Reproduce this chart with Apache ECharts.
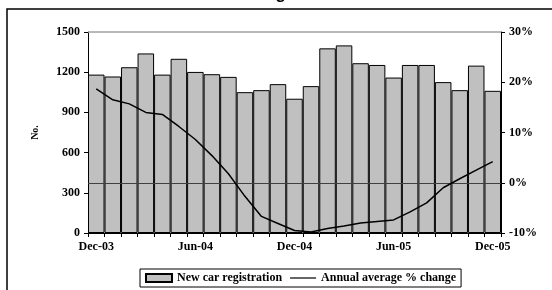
<!DOCTYPE html>
<html>
<head>
<meta charset="utf-8">
<script src="https://cdn.jsdelivr.net/npm/echarts@6/dist/echarts.min.js"></script>
<style>
  html, body { margin: 0; padding: 0; background: #fff; }
  #chart { width: 552px; height: 290px; }
</style>
</head>
<body>
<div id="chart"></div>
<script>
// months Dec-03 .. Dec-05
const months = ['Dec-03', 'Jan-04', 'Feb-04', 'Mar-04', 'Apr-04', 'May-04', 'Jun-04', 'Jul-04', 'Aug-04',
  'Sep-04', 'Oct-04', 'Nov-04', 'Dec-04', 'Jan-05', 'Feb-05', 'Mar-05', 'Apr-05', 'May-05', 'Jun-05',
  'Jul-05', 'Aug-05', 'Sep-05', 'Oct-05', 'Nov-05', 'Dec-05']

const registrations = [1182, 1168, 1237, 1340, 1182, 1300, 1202, 1185, 1165,
  1051, 1066, 1111, 1002, 1096, 1378, 1400, 1267, 1254, 1160,
  1254, 1254, 1126, 1066, 1249, 1061]

const annualChange = [18.7, 16.5, 15.7, 14.0, 13.6, 11.2, 8.6, 5.4, 1.8,
  -2.7, -6.7, -8.1, -9.5, -9.8, -9.1, -8.6, -8.0, -7.7, -7.4,
  -5.8, -4.0, -1.0, 0.8, 2.5, 4.2]

const font = 'Liberation Serif'

var chart = echarts.init(document.getElementById('chart'))

var option = {
  animation: false,
  title: {
    text: 'New car registrations',
    left: 'center',
    top: -19,
    textStyle: { fontFamily: 'Liberation Sans', fontSize: 17, fontWeight: 'bold', color: '#000' }
  },
  graphic: [{
    type: 'rect',
    shape: { x: 7, y: 9, width: 700, height: 400 },
    style: { fill: 'none', stroke: '#000', lineWidth: 1.5 },
    silent: true
  }],
  legend: {
    bottom: 3,
    left: 140,
    itemGap: 8,
    itemWidth: 26,
    itemHeight: 8,
    padding: [3, 5],
    borderColor: '#000',
    borderWidth: 1,
    textStyle: { fontFamily: font, fontSize: 12, fontWeight: 'bold', color: '#000' },
    data: [
      { name: 'New car registration', icon: 'rect' },
      { name: 'Annual average % change', icon: 'path://M0,0 L0,0 M0,3.4 L26,3.4 L26,4.6 L0,4.6 Z M0,8 L0,8' }
    ]
  },
  grid: { left: 88, right: 51, top: 32, bottom: 57 },
  xAxis: {
    type: 'category',
    data: months,
    axisLine: { lineStyle: { color: '#000', width: 1 } },
    axisTick: { show: true, interval: 0, length: 4, lineStyle: { color: '#000' } },
    axisLabel: {
      interval: 5,
      margin: 8,
      fontFamily: font, fontSize: 12, fontWeight: 'bold', color: '#000'
    }
  },
  yAxis: [
    {
      type: 'value',
      min: 0, max: 1500, interval: 300,
      name: 'No.',
      nameLocation: 'middle',
      nameRotate: 90,
      nameGap: 48,
      nameTextStyle: { fontFamily: font, fontSize: 10, fontWeight: 'bold', color: '#000' },
      axisLine: { show: true, lineStyle: { color: '#000' } },
      axisTick: { show: true, length: 4, lineStyle: { color: '#000' } },
      axisLabel: {
        formatter: function (v) { return String(v) },
        margin: 8, fontFamily: font, fontSize: 12, fontWeight: 'bold', color: '#000'
      },
      splitLine: { show: false }
    },
    {
      type: 'value',
      min: -10, max: 30, interval: 10,
      axisLine: { show: true, lineStyle: { color: '#000' } },
      axisTick: { show: true, length: 4, lineStyle: { color: '#000' } },
      axisLabel: { formatter: '{value}%', margin: 8, fontFamily: font, fontSize: 12, fontWeight: 'bold', color: '#000' },
      splitLine: { show: false }
    }
  ],
  series: [
    {
      name: 'New car registration',
      type: 'bar',
      data: registrations,
      barCategoryGap: 0,
      itemStyle: { color: '#c0c0c0', borderColor: '#000', borderWidth: 1 },
      markLine: {
        silent: true,
        symbol: 'none',
        label: { show: false },
        lineStyle: { color: '#a0a0a0', type: 'solid', width: 1.5 },
        data: [{ yAxis: 1500 }]
      }
    },
    {
      name: 'Annual average % change',
      type: 'line',
      yAxisIndex: 1,
      data: annualChange,
      symbol: 'none',
      lineStyle: { color: '#000', width: 1.5 },
      itemStyle: { color: '#000' },
      z: 5,
      markLine: {
        silent: true,
        symbol: 'none',
        label: { show: false },
        lineStyle: { color: '#404040', type: 'solid', width: 1 },
        data: [{ yAxis: 0 }]
      }
    }
  ]
}

chart.setOption(option)
</script>
</body>
</html>
